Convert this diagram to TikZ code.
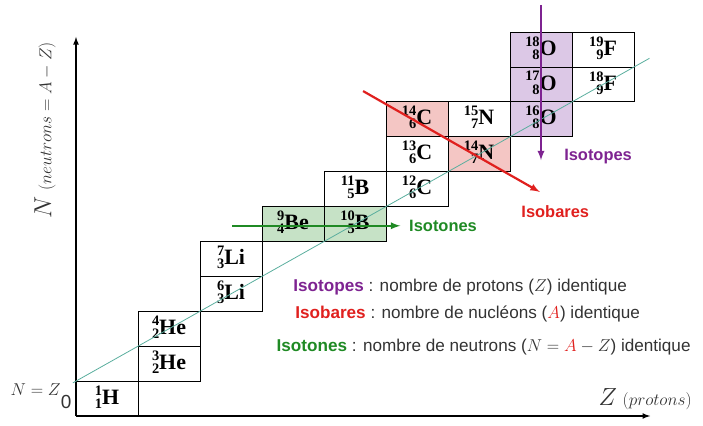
\documentclass[tikz,border=0pt]{standalone}
\usepackage{fontspec}
\setmainfont{Liberation Serif}
\setsansfont{Liberation Sans}
\usetikzlibrary{arrows}

\definecolor{isotope}{HTML}{7E2391}
\definecolor{isobare}{HTML}{E0201E}
\definecolor{isotone}{HTML}{1F8A24}
\definecolor{isotopefill}{HTML}{DCC8E6}
\definecolor{isobarefill}{HTML}{F4C6C4}
\definecolor{isotonefill}{HTML}{C6E2C6}
\definecolor{diag}{HTML}{5AAE9E}
\definecolor{txt}{HTML}{333333}

% noyau : A en haut, Z en bas, symbole
\newcommand\nuc[3]{\bfseries\raisebox{-4bp}{\fontsize{14.5}{11.5}\selectfont\begin{tabular}[b]{@{}r@{}}#1\\#2\end{tabular}}{\fontsize{22}{22}\selectfont#3}}

\tikzset{
  cell/.style={draw, line width=0.8bp, minimum width=62bp, minimum height=34.9bp, inner sep=0pt},
  lbl/.style={font=\sffamily\bfseries\fontsize{16.5}{19}\selectfont},
  legend/.style={anchor=west, text=txt, font=\sffamily\fontsize{17.2}{20}\selectfont},
  fleche/.style={-latex, line width=2.2bp}
}

\begin{document}
\begin{tikzpicture}[x=62bp,y=34.9bp]
\useasboundingbox (-76bp,-10bp) rectangle (627bp,416bp);

% axes
\coordinate (origin) at (0,0);
\coordinate (ytop) at (0,10.86);
\coordinate (xend) at (9.26,0);
\draw[-latex,line width=1.6bp] (origin) -- (ytop);
\draw[-latex,line width=1.6bp] (origin) -- (xend);

% cases
\node[cell] (h1) at (0.5,0.5) {\nuc{1}{1}{H}};
\node[cell] (he3) at (1.5,1.5) {\nuc{3}{2}{He}};
\node[cell] (he4) at (1.5,2.5) {\nuc{4}{2}{He}};
\node[cell] (li6) at (2.5,3.5) {\nuc{6}{3}{Li}};
\node[cell] (li7) at (2.5,4.5) {\nuc{7}{3}{Li}};
\node[cell,fill=isotonefill] (be9) at (3.5,5.5) {\nuc{9}{4}{Be}};
\node[cell,fill=isotonefill] (b10) at (4.5,5.5) {\nuc{10}{5}{B}};
\node[cell] (b11) at (4.5,6.5) {\nuc{11}{5}{B}};
\node[cell] (c12) at (5.5,6.5) {\nuc{12}{6}{C}};
\node[cell] (c13) at (5.5,7.5) {\nuc{13}{6}{C}};
\node[cell,fill=isobarefill] (c14) at (5.5,8.5) {\nuc{14}{6}{C}};
\node[cell,fill=isobarefill] (n14) at (6.5,7.5) {\nuc{14}{7}{N}};
\node[cell] (n15) at (6.5,8.5) {\nuc{15}{7}{N}};
\node[cell,fill=isotopefill] (o16) at (7.5,8.5) {\nuc{16}{8}{O}};
\node[cell,fill=isotopefill] (o17) at (7.5,9.5) {\nuc{17}{8}{O}};
\node[cell,fill=isotopefill] (o18) at (7.5,10.5) {\nuc{18}{8}{O}};
\node[cell] (f18) at (8.5,9.5) {\nuc{18}{9}{F}};
\node[cell] (f19) at (8.5,10.5) {\nuc{19}{9}{F}};

% droite N = Z
\coordinate (dstart) at (-0.05,0.95);
\coordinate (dend) at (9.25,10.25);
\draw[diag,line width=0.8bp] (dstart) -- (dend);

% fleches
\coordinate (ptop) at (7.5,11.78);
\coordinate (pbot) at (7.5,7.33);
\draw[fleche,isotope] (ptop) -- (pbot);
\coordinate (rtop) at (4.63,9.31);
\coordinate (rbot) at (7.48,6.42);
\draw[fleche,isobare] (rtop) -- (rbot);
\coordinate (gleft) at (2.52,5.45);
\coordinate (gright) at (5.23,5.45);
\draw[fleche,isotone] (gleft) -- (gright);

\node[lbl,text=isotope] (tisotopes) at (8.42,7.42) {Isotopes};
\node[lbl,text=isobare] (tisobares) at (7.73,5.85) {Isobares};
\node[lbl,text=isotone] (tisotones) at (5.92,5.44) {Isotones};

% legende
\node[legend] (lisotopes) at (3.45,3.70) {\textcolor{isotope}{\bfseries Isotopes} : nombre de protons ($Z$) identique};
\node[legend] (lisobares) at (3.48,2.92) {\textcolor{isobare}{\bfseries Isobares} : nombre de nucléons ($\textcolor{isobare}{A}$) identique};
\node[legend] (lisotones) at (3.18,1.98) {\textcolor{isotone}{\bfseries Isotones} : nombre de neutrons ($N = \textcolor{isobare}{A} - Z$) identique};

% etiquettes des axes
\node[rotate=90,text=txt] (ylabel) at (-0.5,8.19) {\fontsize{24}{24}\selectfont$N$ \fontsize{18}{18}\selectfont$(neutrons = A - Z)$};
\node[text=txt] (xlabel) at (9.18,0.49) {\fontsize{23}{23}\selectfont$Z$ \fontsize{16}{16}\selectfont$(protons)$};
\node[anchor=east,text=txt] (nz) at (-0.19,0.745) {\fontsize{16}{16}\selectfont$N = Z$};
\node[text=txt,font=\sffamily\fontsize{19}{19}\selectfont] (zero) at (-0.16,0.40) {0};

\end{tikzpicture}
\end{document}
